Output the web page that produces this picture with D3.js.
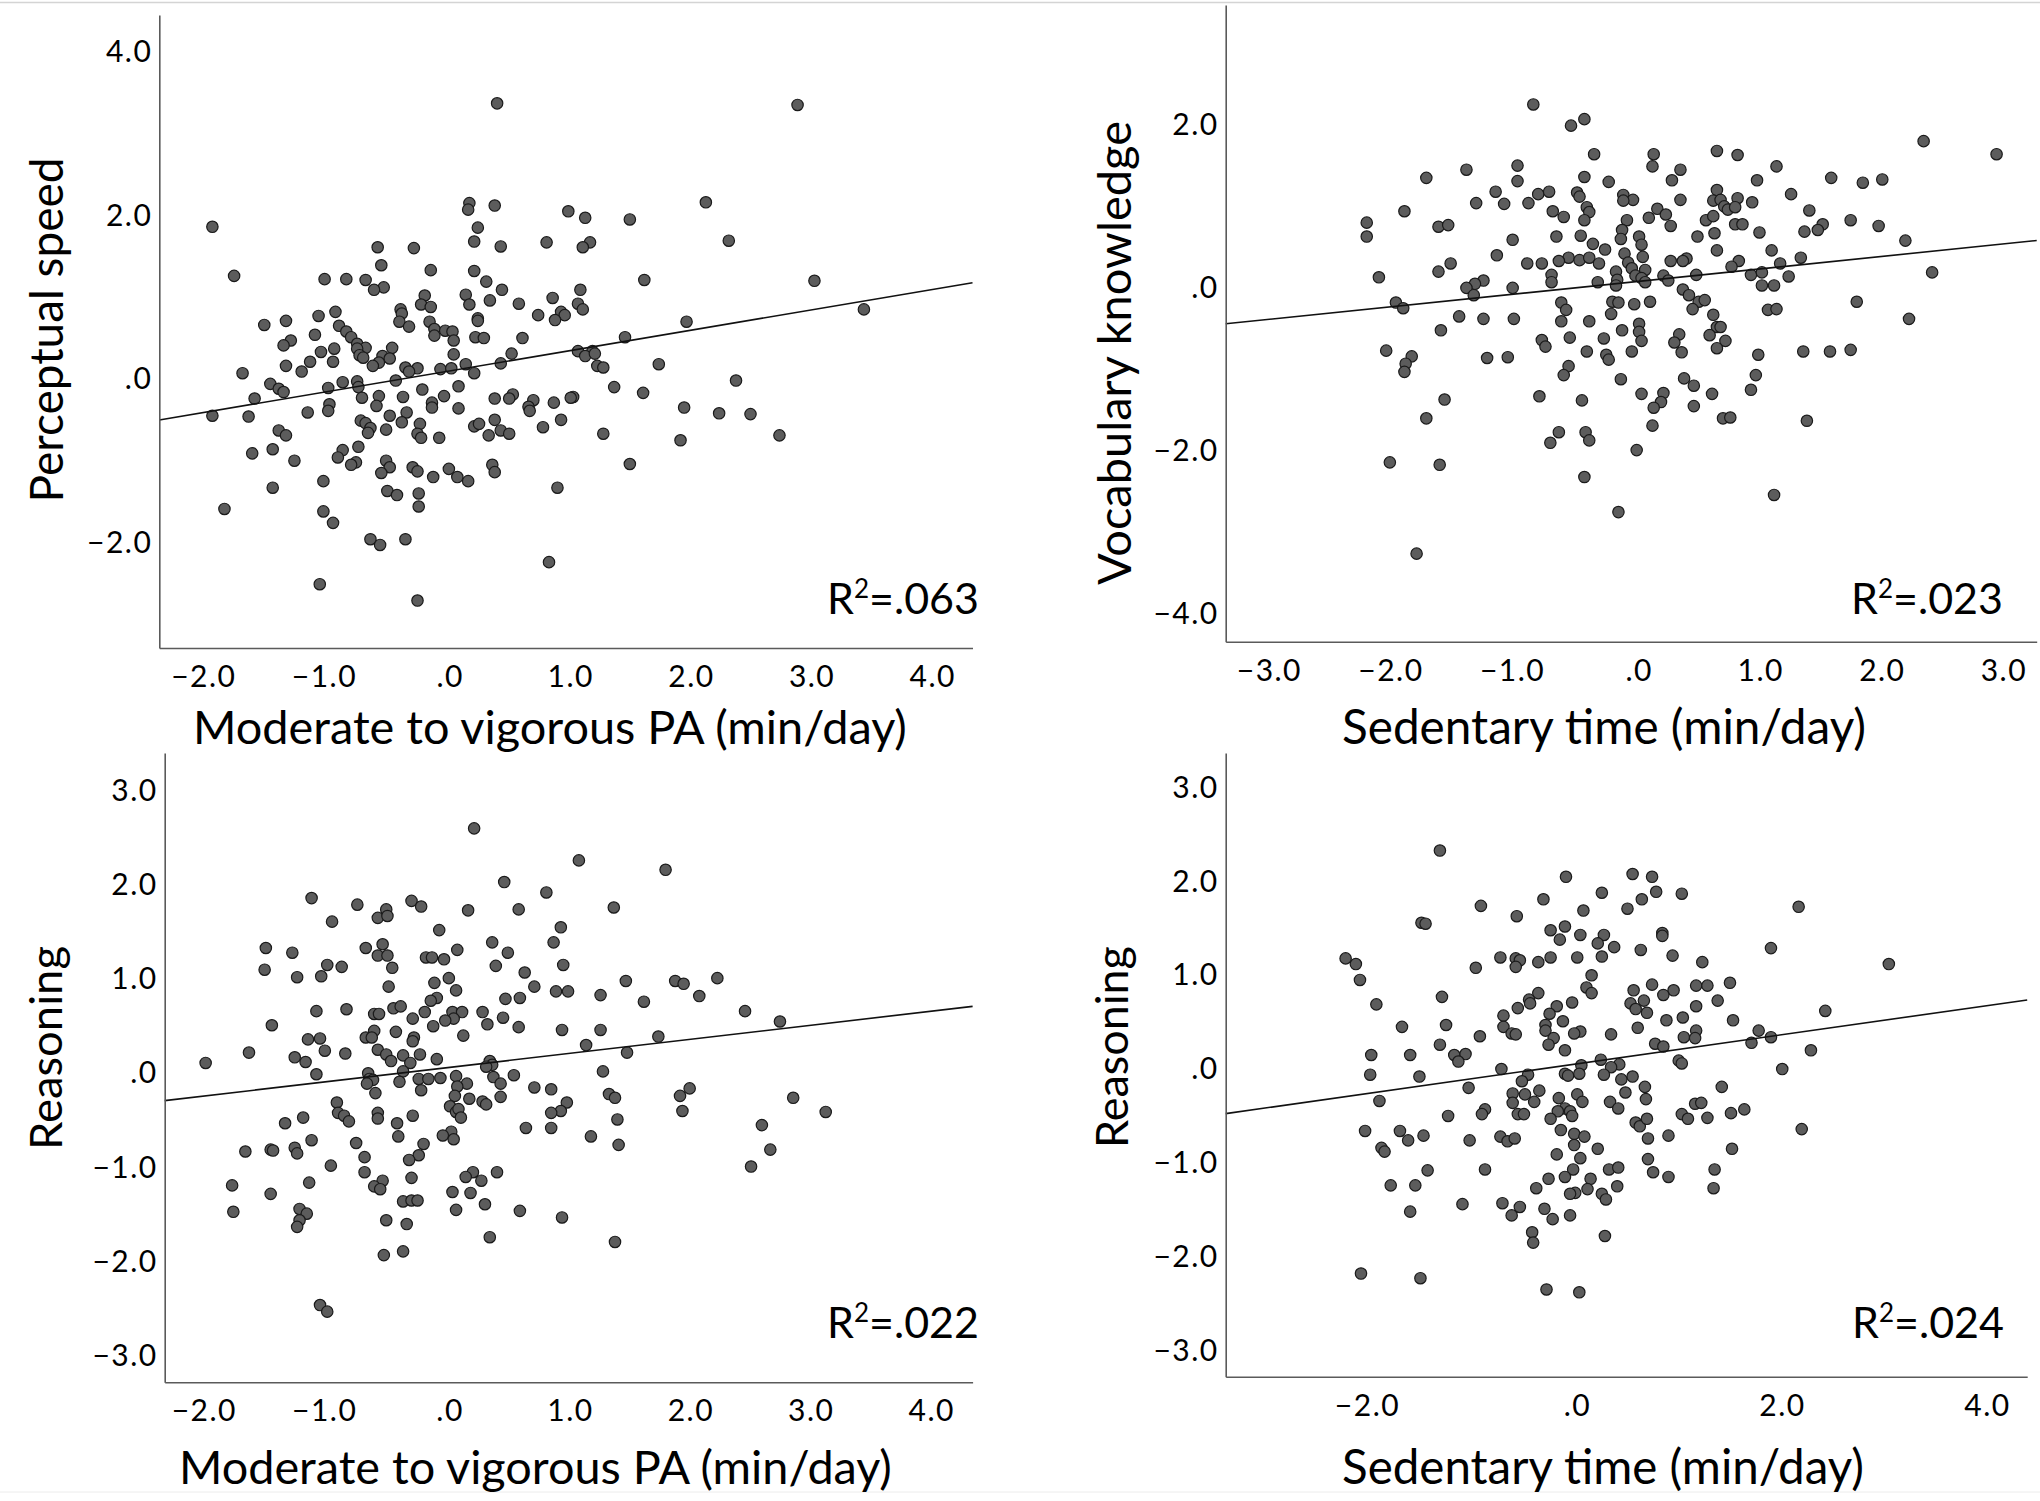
<!DOCTYPE html>
<html><head><meta charset="utf-8">
<script src="https://cdn.jsdelivr.net/npm/d3@7"></script>
<style>
body{margin:0;background:#fff}
svg{display:block}
text{font-family:Lato,"Open Sans",sans-serif;fill:#000}
</style>
</head><body>
<svg id="c" width="2040" height="1501"></svg>
<script>
// ---------- data ----------
const mvpaPerceptual = [
[0.40,3.36],[2.89,3.34],[2.13,2.15],[0.17,2.14],[0.38,2.11],[0.16,2.06],[0.99,2.04],[1.13,1.96],[1.50,1.94],[-1.96,1.85],
[0.24,1.84],[2.32,1.68],[0.21,1.67],[0.81,1.66],[1.17,1.66],[1.11,1.60],[-0.59,1.60],[0.43,1.61],[-0.29,1.59],[-0.56,1.38],
[-0.15,1.32],[0.21,1.31],[-1.78,1.25],[-1.03,1.21],[-0.85,1.21],[-0.69,1.20],[0.31,1.18],[1.62,1.20],[3.03,1.19],[-0.54,1.11],
[-0.62,1.08],[0.44,1.08],[1.09,1.08],[0.14,1.02],[-0.20,1.01],[0.86,0.98],[0.34,0.95],[0.58,0.91],[-0.23,0.90],[1.07,0.91],
[0.17,0.90],[-0.15,0.87],[-0.40,0.84],[1.11,0.84],[3.44,0.84],[-0.39,0.79],[0.93,0.81],[0.96,0.77],[0.74,0.77],[-1.08,0.76],
[-0.94,0.81],[0.24,0.73],[0.88,0.71],[0.24,0.70],[-1.35,0.70],[-0.16,0.69],[-0.41,0.69],[1.97,0.69],[-1.53,0.65],[-0.91,0.64],
[-0.33,0.63],[-0.12,0.60],[-0.03,0.58],[0.03,0.57],[-0.85,0.57],[-1.11,0.53],[-0.12,0.52],[-0.81,0.50],[0.22,0.50],[0.29,0.49],
[0.61,0.49],[1.46,0.50],[-1.31,0.46],[0.04,0.46],[-1.37,0.40],[-0.76,0.42],[-0.69,0.37],[-0.47,0.37],[-0.95,0.36],[-1.06,0.32],
[-0.76,0.36],[1.07,0.33],[1.19,0.33],[-0.74,0.28],[-0.55,0.27],[0.04,0.29],[0.52,0.30],[1.13,0.27],[1.21,0.30],[-0.71,0.25],
[-0.49,0.24],[-1.15,0.20],[-0.96,0.20],[-0.58,0.19],[-0.63,0.15],[0.14,0.17],[0.43,0.18],[1.74,0.17],[-1.35,0.15],[-0.36,0.13],
[-0.26,0.12],[1.23,0.15],[1.28,0.13],[-0.07,0.11],[0.02,0.12],[-0.33,0.08],[-1.22,0.08],[-1.71,0.06],[0.21,0.06],[-0.44,-0.03],
[2.38,-0.03],[-0.88,-0.05],[-1.48,-0.07],[-0.76,-0.04],[-0.75,-0.11],[0.08,-0.10],[-1.00,-0.12],[1.37,-0.11],[-1.41,-0.13],[-1.37,-0.17],
[-0.22,-0.14],[1.61,-0.18],[-0.58,-0.22],[-0.04,-0.22],[0.38,-0.25],[0.53,-0.20],[0.50,-0.25],[1.03,-0.23],[1.01,-0.24],[-1.61,-0.25],
[-0.38,-0.23],[-0.72,-0.24],[0.70,-0.27],[0.87,-0.30],[-0.14,-0.30],[-0.99,-0.32],[-0.60,-0.34],[0.66,-0.35],[0.08,-0.37],[1.95,-0.36],
[-0.14,-0.36],[-0.35,-0.42],[-1.17,-0.42],[-1.00,-0.40],[0.67,-0.40],[2.24,-0.43],[2.50,-0.44],[-1.96,-0.46],[-1.66,-0.47],[-0.49,-0.46],
[0.38,-0.51],[0.93,-0.51],[-0.73,-0.52],[-0.69,-0.55],[-0.39,-0.54],[0.21,-0.59],[0.25,-0.56],[-0.24,-0.56],[0.78,-0.60],[-0.65,-0.61],
[-0.52,-0.63],[-1.41,-0.64],[0.43,-0.64],[-0.67,-0.67],[1.28,-0.68],[-1.35,-0.70],[-0.26,-0.68],[0.33,-0.70],[0.50,-0.68],[2.74,-0.70],
[-0.23,-0.73],[-0.08,-0.73],[1.92,-0.76],[-0.75,-0.84],[-1.46,-0.87],[-0.88,-0.88],[-1.63,-0.92],[-0.92,-0.97],[-1.28,-1.01],[-0.52,-1.01],
[-0.77,-1.03],[-0.81,-1.06],[0.36,-1.06],[1.50,-1.05],[-0.49,-1.09],[-0.30,-1.09],[0.00,-1.11],[-0.26,-1.14],[0.38,-1.15],[-0.56,-1.16],
[0.07,-1.21],[-0.13,-1.21],[0.16,-1.26],[-1.04,-1.26],[-1.46,-1.34],[0.90,-1.34],[-0.51,-1.38],[-0.43,-1.43],[-0.25,-1.41],[-0.25,-1.57],
[-1.86,-1.60],[-1.04,-1.63],[-0.96,-1.77],[-0.65,-1.97],[-0.57,-2.04],[-0.36,-1.97],[0.83,-2.25],[-1.07,-2.52],[-0.26,-2.72]
];

const sedentaryVocabulary = [
[-0.86,2.24],[-0.44,2.06],[-0.55,1.98],[2.35,1.79],[2.95,1.63],[0.65,1.67],[0.82,1.62],[-0.36,1.63],[0.13,1.63],[0.12,1.48],
[1.14,1.48],[-0.99,1.49],[-1.41,1.44],[0.35,1.44],[0.28,1.31],[-1.74,1.34],[-0.44,1.35],[-0.24,1.29],[-0.99,1.30],[0.98,1.31],
[1.59,1.34],[1.85,1.28],[2.01,1.32],[0.65,1.19],[1.26,1.14],[-1.17,1.17],[-0.82,1.14],[-0.73,1.17],[-0.50,1.16],[-0.48,1.11],
[-0.12,1.13],[-0.04,1.07],[-0.12,1.06],[0.35,1.07],[0.62,1.06],[0.68,1.07],[0.82,1.09],[0.94,1.04],[-1.33,1.03],[-1.10,1.02],
[-0.90,1.03],[-0.42,0.98],[0.71,0.99],[0.74,0.95],[0.80,0.98],[-1.92,0.93],[-0.70,0.93],[-0.40,0.92],[0.16,0.96],[0.23,0.89],
[1.41,0.94],[-0.61,0.86],[-0.44,0.82],[-0.09,0.82],[0.09,0.85],[0.56,0.82],[0.62,0.87],[1.75,0.82],[-2.23,0.79],[-1.64,0.74],
[-1.56,0.76],[0.27,0.75],[0.80,0.77],[0.86,0.77],[1.52,0.77],[1.98,0.75],[1.48,0.70],[-0.13,0.70],[1.37,0.68],[1.00,0.67],
[0.63,0.66],[-2.23,0.62],[-0.67,0.62],[-0.47,0.63],[0.01,0.62],[0.49,0.62],[-0.14,0.59],[-1.03,0.58],[-0.37,0.53],[0.03,0.52],
[2.20,0.57],[-0.27,0.46],[0.65,0.45],[1.10,0.45],[-1.16,0.39],[-0.11,0.41],[0.04,0.37],[-0.57,0.36],[-0.48,0.33],[-0.40,0.36],
[-0.65,0.32],[0.27,0.32],[0.40,0.35],[1.34,0.36],[-1.54,0.29],[-0.91,0.29],[-0.79,0.29],[-0.32,0.29],[-0.08,0.30],[0.37,0.32],
[0.83,0.32],[1.17,0.29],[-0.05,0.23],[0.06,0.21],[0.77,0.25],[-1.64,0.19],[-0.18,0.19],[-0.71,0.15],[0.48,0.15],[0.93,0.15],
[1.02,0.18],[2.42,0.18],[-2.13,0.12],[-0.02,0.14],[0.21,0.14],[1.24,0.13],[-1.27,0.08],[-0.71,0.06],[-0.33,0.06],[0.25,0.08],
[-0.17,0.09],[0.03,0.11],[0.06,0.06],[-1.34,0.04],[-1.41,-0.01],[-1.03,-0.01],[-0.18,0.02],[1.02,0.02],[1.12,0.02],[0.37,-0.03],
[-1.35,-0.10],[0.42,-0.10],[-1.99,-0.19],[-1.93,-0.26],[-0.63,-0.19],[-0.21,-0.18],[-0.16,-0.19],[-0.03,-0.21],[0.10,-0.18],[0.50,-0.18],
[0.55,-0.16],[1.80,-0.18],[-0.59,-0.28],[0.45,-0.27],[1.07,-0.28],[1.14,-0.27],[-1.47,-0.36],[-1.27,-0.39],[-1.02,-0.39],[-0.63,-0.42],
[-0.40,-0.42],[-0.22,-0.33],[0.62,-0.34],[2.23,-0.39],[0.01,-0.45],[0.65,-0.49],[0.68,-0.49],[-1.62,-0.53],[-0.13,-0.53],[0.01,-0.55],
[0.34,-0.58],[0.59,-0.59],[-0.56,-0.62],[-0.28,-0.63],[0.03,-0.66],[0.30,-0.68],[0.72,-0.66],[-0.79,-0.65],[-0.76,-0.73],[-0.05,-0.79],
[0.36,-0.80],[0.65,-0.75],[-0.42,-0.79],[-2.07,-0.78],[-1.86,-0.85],[-1.24,-0.87],[-1.07,-0.86],[-0.26,-0.83],[-0.24,-0.89],[0.99,-0.83],
[1.36,-0.79],[1.58,-0.79],[1.75,-0.77],[-1.91,-0.94],[-1.92,-1.04],[-0.57,-0.97],[-0.61,-1.08],[0.97,-1.08],[-0.14,-1.13],[0.38,-1.12],
[0.46,-1.21],[0.93,-1.26],[-0.81,-1.34],[0.03,-1.31],[0.21,-1.30],[0.19,-1.41],[0.61,-1.31],[-1.59,-1.38],[-0.46,-1.39],[0.13,-1.48],
[0.46,-1.46],[-1.74,-1.61],[0.70,-1.61],[0.76,-1.60],[1.39,-1.64],[0.12,-1.70],[-0.65,-1.78],[-0.43,-1.78],[-0.72,-1.91],[-0.40,-1.88],
[-0.01,-2.00],[-2.04,-2.15],[-1.63,-2.18],[-0.44,-2.33],[1.12,-2.55],[-0.16,-2.76],[-1.82,-3.27]
];

const mvpaReasoning = [
[0.21,2.59],[1.08,2.25],[1.80,2.15],[0.46,2.02],[0.81,1.91],[-1.14,1.85],[-0.76,1.78],[-0.31,1.82],[-0.23,1.76],[-0.52,1.73],
[0.16,1.72],[0.58,1.73],[1.37,1.75],[-0.59,1.64],[-0.51,1.66],[-0.97,1.60],[0.93,1.54],[-0.08,1.51],[0.87,1.38],[0.36,1.38],
[-0.55,1.36],[-0.69,1.32],[-1.52,1.32],[-1.30,1.27],[0.49,1.27],[0.07,1.30],[-0.59,1.24],[-0.51,1.24],[-0.19,1.22],[-0.14,1.22],
[-0.04,1.20],[-1.01,1.14],[-0.89,1.12],[0.39,1.13],[0.95,1.14],[-0.47,1.11],[-1.53,1.09],[0.63,1.06],[-1.26,1.01],[-1.06,1.02],
[0.00,1.00],[2.23,1.00],[1.88,0.97],[1.95,0.94],[1.47,0.97],[-0.12,0.95],[-0.50,0.91],[0.71,0.91],[0.06,0.87],[0.89,0.86],
[0.99,0.86],[1.26,0.82],[2.08,0.81],[-0.10,0.79],[0.47,0.78],[0.59,0.79],[-0.15,0.76],[1.62,0.75],[-0.46,0.68],[-0.40,0.70],
[-0.85,0.67],[-1.10,0.65],[0.28,0.64],[2.46,0.65],[0.03,0.64],[0.11,0.64],[-0.20,0.64],[-0.62,0.62],[-0.58,0.62],[0.04,0.57],
[-0.30,0.57],[-0.03,0.55],[0.45,0.58],[2.75,0.54],[-1.47,0.50],[-0.13,0.49],[0.32,0.51],[0.58,0.48],[-0.62,0.44],[-0.44,0.43],
[0.94,0.45],[1.26,0.45],[0.12,0.39],[-0.69,0.37],[-0.64,0.37],[1.74,0.38],[-0.29,0.37],[-0.30,0.33],[-1.17,0.35],[-1.07,0.36],
[1.14,0.29],[-1.03,0.23],[-0.59,0.24],[-1.66,0.21],[-0.86,0.20],[1.48,0.21],[-0.52,0.19],[-0.38,0.18],[-0.24,0.19],[-1.28,0.16],
[-0.10,0.14],[-0.48,0.12],[-1.19,0.11],[-0.32,0.10],[0.34,0.12],[-2.02,0.10],[0.36,0.08],[0.31,0.06],[1.28,0.01],[-0.38,0.01],
[-1.10,-0.02],[-0.67,-0.01],[-0.66,-0.07],[0.54,-0.03],[0.06,-0.04],[0.37,-0.05],[-0.63,-0.08],[-0.25,-0.07],[-0.17,-0.07],[-0.07,-0.06],
[-0.41,-0.10],[0.15,-0.12],[-0.68,-0.12],[0.43,-0.12],[0.07,-0.15],[0.71,-0.16],[0.85,-0.18],[2.00,-0.17],[-0.23,-0.19],[-0.61,-0.22],
[1.33,-0.23],[1.38,-0.27],[0.05,-0.25],[0.17,-0.28],[0.43,-0.26],[1.92,-0.25],[2.86,-0.27],[0.28,-0.31],[0.98,-0.32],[0.31,-0.34],
[0.01,-0.36],[-0.93,-0.32],[-0.59,-0.43],[0.06,-0.42],[-0.30,-0.46],[-0.92,-0.43],[0.08,-0.39],[0.93,-0.41],[0.85,-0.43],[-0.87,-0.46],
[1.94,-0.41],[3.13,-0.42],[-1.21,-0.48],[0.10,-0.48],[-0.83,-0.52],[1.40,-0.50],[-0.59,-0.49],[-1.36,-0.54],[-0.43,-0.54],[2.60,-0.56],
[0.64,-0.59],[0.85,-0.59],[0.02,-0.63],[-0.05,-0.67],[0.04,-0.71],[-0.42,-0.68],[1.18,-0.68],[-1.14,-0.72],[-0.77,-0.75],[-0.21,-0.76],
[1.41,-0.77],[-1.48,-0.82],[-1.28,-0.80],[2.67,-0.82],[-1.46,-0.83],[-1.69,-0.84],[-1.26,-0.86],[-0.70,-0.90],[-0.25,-0.88],[-0.33,-0.93],
[-0.98,-0.99],[2.51,-1.00],[-0.70,-1.06],[0.40,-1.06],[0.20,-1.06],[0.14,-1.11],[-0.31,-1.12],[-0.55,-1.15],[0.27,-1.15],[-1.80,-1.20],
[-1.16,-1.17],[-0.62,-1.21],[-0.57,-1.24],[0.03,-1.27],[0.18,-1.28],[-1.48,-1.29],[-0.38,-1.37],[-0.31,-1.36],[-0.26,-1.36],[0.30,-1.40],
[-1.79,-1.48],[-1.24,-1.45],[-1.18,-1.50],[0.06,-1.46],[0.59,-1.47],[-1.24,-1.57],[0.94,-1.54],[-1.26,-1.64],[-0.52,-1.57],[-0.35,-1.61],
[0.34,-1.75],[1.38,-1.80],[-0.38,-1.90],[-0.54,-1.94],[-1.07,-2.47],[-1.01,-2.54]
];

const sedentaryReasoning = [
[-1.33,2.32],[0.55,2.07],[-0.10,2.04],[0.74,2.04],[0.78,1.88],[0.25,1.87],[1.03,1.86],[-0.32,1.80],[0.64,1.80],[-0.93,1.73],
[2.17,1.72],[0.50,1.70],[0.07,1.68],[-0.58,1.62],[-1.51,1.55],[-1.47,1.54],[-0.11,1.51],[-0.25,1.47],[0.84,1.44],[0.04,1.42],
[0.27,1.42],[-0.16,1.37],[0.84,1.41],[0.21,1.33],[0.37,1.29],[0.63,1.26],[1.90,1.28],[0.25,1.19],[0.94,1.20],[0.01,1.18],
[-0.25,1.18],[-0.74,1.18],[-0.59,1.17],[-0.55,1.15],[-2.25,1.17],[-2.15,1.11],[-0.37,1.13],[1.23,1.13],[3.05,1.11],[-0.59,1.08],
[-0.98,1.07],[0.15,0.99],[-2.11,0.94],[0.74,0.89],[1.17,0.88],[1.28,0.88],[1.50,0.91],[0.10,0.86],[0.95,0.83],[0.56,0.83],
[0.15,0.80],[-0.37,0.80],[0.85,0.78],[-1.31,0.76],[-0.46,0.73],[-0.04,0.70],[1.38,0.72],[0.66,0.72],[0.53,0.69],[-1.95,0.68],
[-0.19,0.66],[-0.45,0.69],[1.17,0.66],[0.58,0.63],[0.69,0.59],[-0.57,0.64],[2.43,0.61],[-0.71,0.56],[-0.26,0.58],[1.04,0.54],
[1.53,0.51],[0.88,0.51],[-0.13,0.50],[-0.30,0.46],[-1.27,0.46],[-1.70,0.44],[-0.71,0.44],[0.60,0.43],[1.17,0.40],[1.78,0.40],
[-0.30,0.40],[0.04,0.39],[-0.02,0.37],[-0.63,0.37],[-0.59,0.36],[0.34,0.36],[-0.94,0.34],[1.05,0.33],[1.16,0.32],[1.90,0.33],
[-0.22,0.32],[1.71,0.27],[0.77,0.26],[0.85,0.23],[-0.27,0.25],[-1.33,0.25],[2.29,0.19],[-0.11,0.19],[-2.00,0.14],[-1.62,0.14],
[-1.19,0.14],[-1.08,0.15],[-1.15,0.07],[0.24,0.09],[1.00,0.08],[1.03,0.05],[0.42,0.04],[0.34,0.01],[0.05,0.03],[2.01,-0.01],
[-0.73,-0.01],[-2.01,-0.07],[-1.53,-0.09],[-0.47,-0.07],[-0.11,-0.06],[0.03,-0.06],[0.27,-0.07],[0.55,-0.09],[0.44,-0.12],[-0.08,-0.08],
[-0.53,-0.14],[0.67,-0.20],[1.42,-0.20],[-1.05,-0.21],[-0.36,-0.24],[0.48,-0.26],[-0.62,-0.27],[-0.50,-0.28],[0.01,-0.28],[-1.92,-0.35],
[-0.17,-0.32],[-0.62,-0.37],[-0.41,-0.36],[0.06,-0.36],[0.33,-0.36],[1.16,-0.38],[1.22,-0.37],[1.64,-0.44],[-0.11,-0.43],[-0.06,-0.46],
[-0.18,-0.46],[0.41,-0.43],[0.68,-0.33],[-0.89,-0.44],[-0.92,-0.49],[1.03,-0.49],[1.51,-0.48],[-0.57,-0.49],[-0.51,-0.49],[1.28,-0.53],
[1.09,-0.54],[-1.25,-0.51],[-0.25,-0.54],[-0.04,-0.51],[0.58,-0.58],[0.62,-0.62],[0.69,-0.54],[2.20,-0.65],[-2.06,-0.67],[-1.72,-0.67],
[-0.15,-0.66],[0.90,-0.72],[-0.74,-0.73],[-1.49,-0.72],[-1.64,-0.77],[-1.04,-0.77],[-0.67,-0.78],[-0.60,-0.75],[-0.02,-0.70],[0.08,-0.73],
[-0.02,-0.82],[0.70,-0.75],[-1.90,-0.85],[-1.87,-0.89],[0.21,-0.86],[1.52,-0.86],[-0.19,-0.92],[0.04,-0.96],[0.70,-0.97],[-0.03,-1.08],
[-0.89,-1.08],[-1.45,-1.09],[0.32,-1.08],[0.41,-1.06],[0.75,-1.11],[1.35,-1.08],[-0.11,-1.16],[0.14,-1.18],[0.90,-1.16],[-0.27,-1.18],
[-1.81,-1.25],[-1.57,-1.25],[-0.39,-1.28],[0.40,-1.26],[1.34,-1.28],[0.11,-1.29],[-0.01,-1.33],[-0.06,-1.34],[0.25,-1.34],[0.29,-1.40],
[-1.11,-1.45],[-0.72,-1.44],[-0.55,-1.48],[-1.62,-1.53],[-0.31,-1.50],[-0.63,-1.57],[-0.23,-1.61],[-0.06,-1.57],[-0.43,-1.75],[0.28,-1.79],
[-0.42,-1.86],[-2.10,-2.19],[-1.52,-2.24],[-0.29,-2.36],[0.03,-2.39]
];

// tick values
const ticksX1 = [-2,-1,0,1,2,3,4];
const ticksY1 = [4,2,0,-2];
const ticksX2 = [-3,-2,-1,0,1,2,3];
const ticksY2 = [2,0,-2,-4];
const ticksX3 = [-2,-1,0,1,2,3,4];
const ticksY3 = [3,2,1,0,-1,-2,-3];
const ticksX4 = [-2,0,2,4];
const ticksY4 = [3,2,1,0,-1,-2,-3];

// fit lines [intercept, slope] and R² labels
const fits = [[0.086,0.249],[0.069,0.153],[0.052,0.149],[0.045,0.155]];
const r2Labels = [".063",".023",".022",".024"];
const xTitles = ["Moderate to vigorous PA (min/day)","Sedentary time (min/day)","Moderate to vigorous PA (min/day)","Sedentary time (min/day)"];
const yTitles = ["Perceptual speed","Vocabulary knowledge","Reasoning","Reasoning"];

// ---------- layout ----------
const panels = [
 {pts:mvpaPerceptual, xt:ticksX1, yt:ticksY1, xDom:[-2.40,4.34], yDom:[-3.30,4.44], l:159.3, r:972.5, t:15, b:648,
  xTitle:{x:193, y:744, w:714}, yTitle:{x:63, y:330, w:345}, r2:{x:979, y:614}},
 {pts:sedentaryVocabulary, xt:ticksX2, yt:ticksY2, xDom:[-3.39,3.28], yDom:[-4.35,3.46], l:1225.7, r:2036.7, t:5, b:641.7,
  xTitle:{x:1342, y:744, w:524}, yTitle:{x:1131, y:353, w:464}, r2:{x:2003, y:613.5}},
 {pts:mvpaReasoning, xt:ticksX3, yt:ticksY3, xDom:[-2.36,4.35], yDom:[-3.29,3.39], l:164.7, r:972.6, t:753, b:1382.3,
  xTitle:{x:179, y:1484, w:713}, yTitle:{x:62, y:1048, w:204}, r2:{x:979, y:1338}},
 {pts:sedentaryReasoning, xt:ticksX4, yt:ticksY4, xDom:[-3.42,4.40], yDom:[-3.29,3.36], l:1225.7, r:2027.2, t:753, b:1376.7,
  xTitle:{x:1342, y:1484, w:522}, yTitle:{x:1128, y:1047, w:202}, r2:{x:2004, y:1338}}
];

const TICK_FS = 30, LS = 1.5;
const fmt = v => v === 0 ? ".0" : d3.format(".1f")(v);
const svg = d3.select("#c");

svg.append("rect").attr("width",2040).attr("height",1501).attr("fill","#fff");
svg.append("line").attr("x1",0).attr("x2",2040).attr("y1",2.5).attr("y2",2.5)
   .attr("stroke","#d4d4d4").attr("stroke-width",1.5);
svg.append("line").attr("x1",0).attr("x2",2040).attr("y1",1492).attr("y2",1492)
   .attr("stroke","#ececec").attr("stroke-width",1);

function fitWidth(sel, target){
  const w = sel.node().getComputedTextLength();
  const fs = parseFloat(sel.attr("font-size"));
  if (w > 0) sel.attr("font-size", fs * target / w);
}

panels.forEach((p, i) => {
  const x = d3.scaleLinear().domain(p.xDom).range([p.l, p.r]);
  const y = d3.scaleLinear().domain(p.yDom).range([p.b, p.t]);
  const g = svg.append("g");

  // points
  g.append("g").selectAll("circle").data(p.pts).join("circle")
    .attr("cx", d => x(d[0])).attr("cy", d => y(d[1])).attr("r", 5.7)
    .attr("fill", "#5c5c5c").attr("stroke", "#1a1a1a").attr("stroke-width", 1.2);

  // fit line
  const [a, b] = fits[i];
  g.append("line")
    .attr("x1", x(p.xDom[0])).attr("y1", y(a + b * p.xDom[0]))
    .attr("x2", x(p.xDom[1])).attr("y2", y(a + b * p.xDom[1]))
    .attr("stroke", "#111").attr("stroke-width", 1.6);

  // axes
  const ax = g.append("g").attr("transform", `translate(0,${p.b})`)
    .call(d3.axisBottom(x).tickValues(p.xt).tickFormat(fmt).tickSize(0).tickPadding(0))
    .attr("font-family", null).attr("font-size", null);
  ax.select(".domain").attr("stroke", "#5a5a5a").attr("stroke-width", 1.6);
  ax.selectAll(".tick text").attr("y", 39).attr("dy", null)
    .attr("dx", d => (d < 0 ? -5 : 0) + LS / 2)
    .attr("font-size", TICK_FS).style("letter-spacing", LS + "px").attr("fill", "#000");

  const ay = g.append("g").attr("transform", `translate(${p.l},0)`)
    .call(d3.axisLeft(y).tickValues(p.yt).tickFormat(fmt).tickSize(0).tickPadding(0))
    .attr("font-family", null).attr("font-size", null);
  ay.select(".domain").attr("stroke", "#5a5a5a").attr("stroke-width", 1.6);
  ay.selectAll(".tick text").attr("x", -8.5 + LS).attr("dy", null).attr("y", 10.5)
    .attr("font-size", TICK_FS).style("letter-spacing", LS + "px").attr("fill", "#000");

  // titles
  const xt = g.append("text").attr("x", p.xTitle.x).attr("y", p.xTitle.y)
    .attr("font-size", 44).attr("text-anchor", "start").text(xTitles[i]);
  fitWidth(xt, p.xTitle.w);

  const yt = g.append("text").attr("transform", `translate(${p.yTitle.x},${p.yTitle.y}) rotate(-90)`)
    .attr("font-size", 44).attr("text-anchor", "middle").text(yTitles[i]);
  fitWidth(yt, p.yTitle.w);

  // R² label
  const rt = g.append("text").attr("x", p.r2.x).attr("y", p.r2.y)
    .attr("font-size", 43).attr("text-anchor", "end");
  rt.append("tspan").text("R");
  rt.append("tspan").attr("font-size", 26).attr("dy", -16).text("2");
  rt.append("tspan").attr("dy", 16).text("=" + r2Labels[i]);
});
</script>
</body></html>
